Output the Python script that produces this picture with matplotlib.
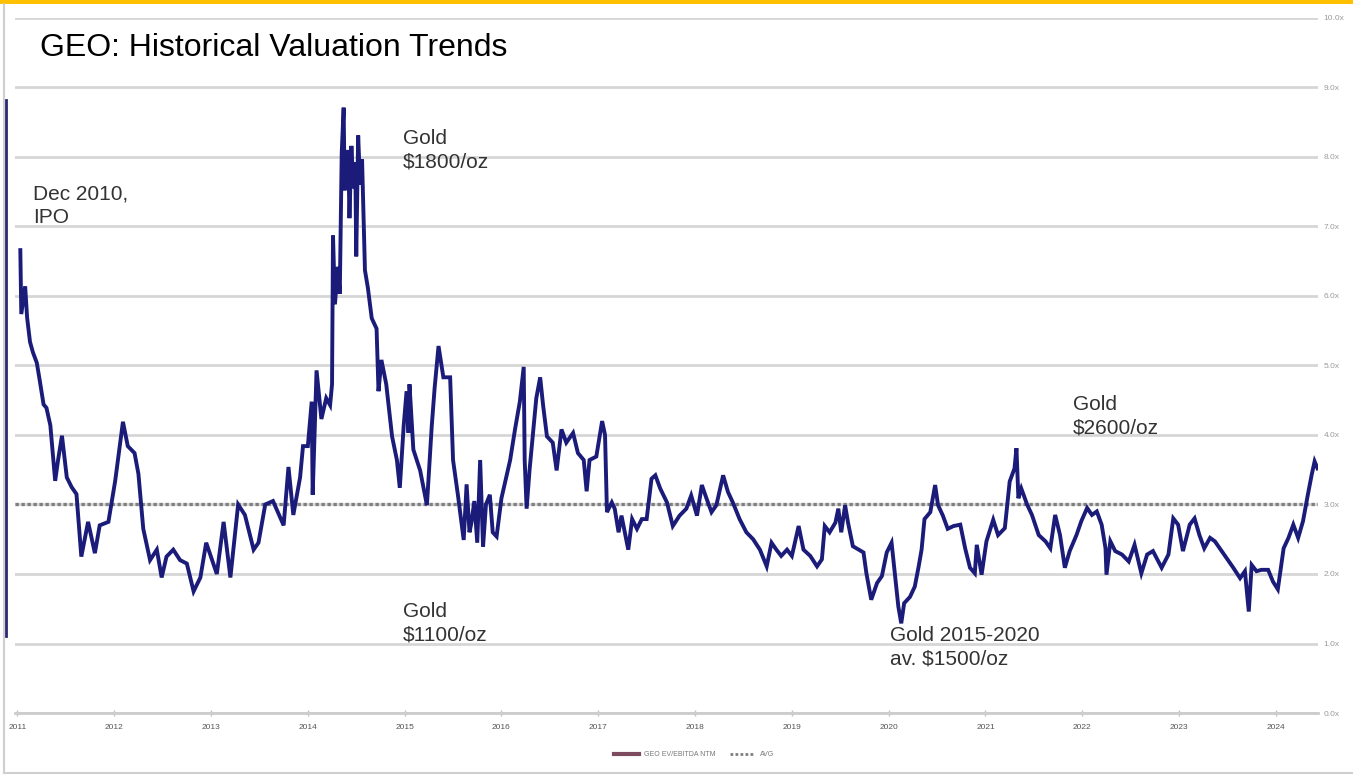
import matplotlib
matplotlib.use("Agg")
import matplotlib.pyplot as plt
from matplotlib.lines import Line2D
from matplotlib.patches import Rectangle

plt.rcParams['font.family'] = ['Liberation Sans', 'DejaVu Sans']

# EV/EBITDA NTM multiple (decimal year, multiple)
years = [
    2011.03, 2011.04, 2011.08, 2011.10, 2011.13, 2011.16, 2011.20, 2011.23, 2011.27, 2011.30,
    2011.34, 2011.39, 2011.42, 2011.46, 2011.51, 2011.56, 2011.61, 2011.66, 2011.73, 2011.80,
    2011.85, 2011.94, 2012.01, 2012.09, 2012.14, 2012.21, 2012.25, 2012.30, 2012.37, 2012.44,
    2012.49, 2012.54, 2012.61, 2012.68, 2012.75, 2012.82, 2012.89, 2012.95, 2013.06, 2013.13,
    2013.20, 2013.28, 2013.35, 2013.44, 2013.49, 2013.56, 2013.64, 2013.75, 2013.80, 2013.85,
    2013.92, 2013.95, 2014.00, 2014.04, 2014.05, 2014.09, 2014.14, 2014.19, 2014.23, 2014.25,
    2014.26, 2014.28, 2014.31, 2014.33, 2014.35, 2014.37, 2014.38, 2014.40, 2014.42, 2014.43,
    2014.45, 2014.47, 2014.49, 2014.50, 2014.52, 2014.54, 2014.56, 2014.59, 2014.62, 2014.66,
    2014.71, 2014.73, 2014.76, 2014.81, 2014.87, 2014.92, 2014.95, 2014.99, 2015.02, 2015.04,
    2015.05, 2015.09, 2015.16, 2015.23, 2015.28, 2015.31, 2015.35, 2015.40, 2015.47, 2015.50,
    2015.55, 2015.61, 2015.64, 2015.67, 2015.69, 2015.72, 2015.75, 2015.78, 2015.81, 2015.84,
    2015.88, 2015.91, 2015.95, 2016.00, 2016.09, 2016.14, 2016.19, 2016.23, 2016.24, 2016.26,
    2016.29, 2016.36, 2016.40, 2016.43, 2016.47, 2016.53, 2016.57, 2016.62, 2016.67, 2016.74,
    2016.79, 2016.85, 2016.88, 2016.91, 2016.98, 2017.04, 2017.07, 2017.09, 2017.14, 2017.17,
    2017.21, 2017.24, 2017.31, 2017.35, 2017.40, 2017.45, 2017.50, 2017.55, 2017.59, 2017.64,
    2017.71, 2017.77, 2017.84, 2017.91, 2017.96, 2018.02, 2018.07, 2018.12, 2018.17, 2018.22,
    2018.29, 2018.34, 2018.39, 2018.46, 2018.53, 2018.60, 2018.67, 2018.74, 2018.79, 2018.84,
    2018.89, 2018.95, 2019.00, 2019.07, 2019.12, 2019.19, 2019.26, 2019.31, 2019.34, 2019.39,
    2019.45, 2019.48, 2019.51, 2019.55, 2019.58, 2019.63, 2019.69, 2019.74, 2019.77, 2019.82,
    2019.88, 2019.93, 2019.98, 2020.03, 2020.06, 2020.10, 2020.13, 2020.16, 2020.22, 2020.27,
    2020.31, 2020.34, 2020.37, 2020.43, 2020.48, 2020.51, 2020.56, 2020.61, 2020.67, 2020.74,
    2020.79, 2020.84, 2020.89, 2020.91, 2020.96, 2021.01, 2021.08, 2021.13, 2021.20, 2021.25,
    2021.30, 2021.32, 2021.34, 2021.37, 2021.43, 2021.48, 2021.55, 2021.62, 2021.67, 2021.72,
    2021.77, 2021.82, 2021.87, 2021.94, 2021.99, 2022.05, 2022.10, 2022.15, 2022.20, 2022.24,
    2022.25, 2022.29, 2022.34, 2022.41, 2022.48, 2022.54, 2022.61, 2022.67, 2022.73, 2022.82,
    2022.89, 2022.94, 2022.99, 2023.04, 2023.11, 2023.16, 2023.21, 2023.26, 2023.32, 2023.37,
    2023.42, 2023.49, 2023.56, 2023.63, 2023.68, 2023.72, 2023.75, 2023.80, 2023.85, 2023.92,
    2023.97, 2024.02, 2024.08, 2024.13, 2024.18, 2024.23, 2024.28, 2024.33, 2024.37, 2024.40,
    2024.43,
]
multiple = [
    6.66, 5.74, 6.14, 5.69, 5.34, 5.19, 5.04, 4.79, 4.44, 4.39,
    4.14, 3.34, 3.64, 3.99, 3.39, 3.25, 3.15, 2.25, 2.75, 2.30,
    2.70, 2.75, 3.34, 4.19, 3.84, 3.74, 3.44, 2.65, 2.20, 2.35,
    1.95, 2.25, 2.35, 2.20, 2.15, 1.75, 1.95, 2.45, 2.00, 2.75,
    1.95, 3.00, 2.85, 2.35, 2.45, 3.00, 3.05, 2.70, 3.54, 2.85,
    3.39, 3.84, 3.84, 4.48, 3.14, 4.93, 4.23, 4.53, 4.43, 4.73,
    6.87, 5.88, 6.42, 6.03, 8.06, 8.71, 7.52, 8.10, 7.87, 7.12,
    8.16, 7.55, 7.92, 6.57, 8.31, 7.60, 7.97, 6.37, 6.12, 5.68,
    5.53, 4.63, 5.08, 4.73, 3.98, 3.64, 3.24, 4.13, 4.63, 4.03,
    4.73, 3.79, 3.49, 2.99, 4.13, 4.68, 5.28, 4.83, 4.83, 3.64,
    3.14, 2.49, 3.29, 2.60, 2.74, 3.05, 2.45, 3.64, 2.39, 3.00,
    3.14, 2.60, 2.54, 3.09, 3.64, 4.08, 4.48, 4.98, 3.64, 2.94,
    3.49, 4.53, 4.83, 4.43, 3.98, 3.89, 3.49, 4.08, 3.89, 4.03,
    3.74, 3.64, 3.19, 3.64, 3.69, 4.20, 4.00, 2.89, 3.03, 2.94,
    2.60, 2.84, 2.35, 2.79, 2.65, 2.79, 2.79, 3.37, 3.42, 3.23,
    3.03, 2.69, 2.84, 2.94, 3.13, 2.84, 3.28, 3.08, 2.89, 2.99,
    3.42, 3.18, 3.03, 2.79, 2.60, 2.50, 2.35, 2.11, 2.45, 2.35,
    2.26, 2.35, 2.26, 2.69, 2.35, 2.26, 2.11, 2.21, 2.69, 2.60,
    2.74, 2.94, 2.60, 2.99, 2.74, 2.40, 2.35, 2.31, 2.01, 1.63,
    1.87, 1.97, 2.31, 2.45, 2.06, 1.53, 1.29, 1.58, 1.67, 1.82,
    2.11, 2.35, 2.79, 2.89, 3.28, 2.99, 2.84, 2.65, 2.69, 2.71,
    2.37, 2.09, 2.01, 2.42, 1.99, 2.47, 2.78, 2.56, 2.66, 3.33,
    3.52, 3.81, 3.09, 3.23, 3.00, 2.85, 2.56, 2.47, 2.37, 2.85,
    2.56, 2.09, 2.33, 2.56, 2.76, 2.95, 2.85, 2.90, 2.71, 2.37,
    1.99, 2.47, 2.33, 2.28, 2.18, 2.42, 2.01, 2.28, 2.33, 2.09,
    2.28, 2.80, 2.71, 2.33, 2.71, 2.80, 2.56, 2.37, 2.52, 2.47,
    2.37, 2.23, 2.09, 1.94, 2.04, 1.46, 2.13, 2.04, 2.06, 2.06,
    1.89, 1.78, 2.37, 2.52, 2.71, 2.52, 2.76, 3.14, 3.43, 3.62,
    3.52,
]
avg_multiple = 3.0

tick_years = list(range(2011, 2025))
y_ticks = list(range(0, 11))

notes = [
    ("Dec 2010,\nIPO", 2011.16, 7.3),
    ("Gold\n$1800/oz", 2014.98, 8.1),
    ("Gold\n$1100/oz", 2014.98, 1.29),
    ("Gold 2015-2020\nav. $1500/oz", 2020.01, 0.94),
    ("Gold\n$2600/oz", 2021.90, 4.27),
]

W, H = 1353, 776
fig = plt.figure(figsize=(W / 100, H / 100), dpi=100)
fig.patch.set_facecolor('white')

ax = fig.add_axes([15 / W, 63 / H, 1303 / W, 695 / H])
ax.set_xlim(2010.975, 2024.435)
ax.set_ylim(0, 10)

ax.set_yticks(y_ticks)
ax.set_yticklabels([f"{v:.1f}x" for v in y_ticks])
ax.yaxis.tick_right()
ax.yaxis.grid(True, color='#d6d6d6', lw=2)
ax.tick_params(axis='y', length=0, pad=4, labelsize=6, labelcolor='#9a9a9a')

ax.set_xticks(tick_years)
ax.set_xticklabels([str(y) for y in tick_years])
ax.tick_params(axis='x', direction='inout', length=4, width=1, color='#c0c0c0',
               pad=6, labelsize=6, labelcolor='#555555')
for s in ['top', 'right', 'left']:
    ax.spines[s].set_visible(False)
ax.spines['bottom'].set_color('#cccccc')
ax.spines['bottom'].set_linewidth(2)
ax.set_axisbelow(True)

ax.axhline(avg_multiple, color='#7f7f7f', lw=2.4, ls=(0, (1, 0.8)), zorder=2)
ax.plot(years, multiple, color='#1b1b7a', lw=2.8, zorder=3, solid_joinstyle='miter')

for txt, x, y in notes:
    ax.text(x, y, txt, fontsize=15, color='#333333', ha='left', va='center',
            linespacing=1.3, zorder=4)

fig.text(40 / W, 1 - 48 / H, "GEO: Historical Valuation Trends", fontsize=23,
         color='black', ha='left', va='center')

# frame, gold top bar and left marker
fig.add_artist(Rectangle((0, 1 - 4 / H), 1, 4 / H, transform=fig.transFigure,
                         color='#ffc000', lw=0))
fig.add_artist(Line2D([4 / W, 4 / W], [1 - 4 / H, 1 - 773 / H], color='#cfcfcf', lw=1.5))
fig.add_artist(Line2D([4 / W, 1], [1 - 773 / H, 1 - 773 / H], color='#cfcfcf', lw=1.5))
fig.add_artist(Line2D([6 / W, 6 / W], [1 - 100 / H, 1 - 636 / H], color='#2a2a72', lw=2))

handles = [Line2D([], [], color='#7d4a60', lw=3),
           Line2D([], [], color='#7f7f7f', lw=2, ls=(0, (1, 0.8)))]
fig.legend(handles, ["GEO EV/EBITDA NTM", "AVG"], loc='center',
           bbox_to_anchor=(0.513, 1 - 755 / H), ncol=2, frameon=False,
           fontsize=5, handlelength=3.5, columnspacing=2, labelcolor='#777777')

fig.savefig("out.png", dpi=100, facecolor='white')
